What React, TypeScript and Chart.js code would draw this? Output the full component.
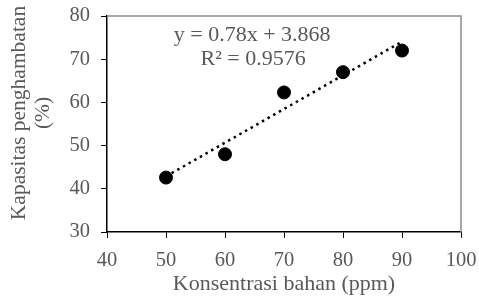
import React, { useEffect, useRef } from "react";
import { Chart, registerables } from "chart.js";

Chart.register(...registerables);

const concX = [50, 60, 70, 80, 90];
const inhibitionY = [42.6, 48.0, 62.3, 67.0, 72.0];
const trendX = [50, 90];
const trendY = [42.87, 74.07];
const equationLines = ["y = 0.78x + 3.868", "R² = 0.9576"];
const yTitleLines = ["Kapasitas penghambatan", "(%)"];
const xTitle = "Konsentrasi bahan (ppm)";

const FONT = "'Liberation Serif', 'Times New Roman', serif";
const GRAY = "#595959";

const overlay = {
  id: "overlay",
  afterDraw(chart: any) {
    const { ctx, chartArea } = chart;
    ctx.save();
    // top & right frame
    ctx.strokeStyle = "#8c8c8c";
    ctx.lineWidth = 1.5;
    ctx.beginPath();
    ctx.moveTo(chartArea.left, chartArea.top);
    ctx.lineTo(chartArea.right, chartArea.top);
    ctx.lineTo(chartArea.right, chartArea.bottom);
    ctx.stroke();
    // equation
    ctx.fillStyle = GRAY;
    ctx.font = `22px ${FONT}`;
    ctx.textAlign = "center";
    ctx.textBaseline = "middle";
    const xs = chart.scales.x;
    const ys = chart.scales.y;
    const cx = xs.getPixelForValue(64.6);
    ctx.fillText(equationLines[0], cx, ys.getPixelForValue(75.6));
    ctx.fillText(equationLines[1], cx + 1, ys.getPixelForValue(70.0));
    // y title
    ctx.font = `21.5px ${FONT}`;
    ctx.translate(0, 113);
    ctx.rotate(-Math.PI / 2);
    ctx.fillText(yTitleLines[0], 0, 19);
    ctx.fillText(yTitleLines[1], 0, 43);
    ctx.restore();
  },
};

export default function App() {
  const ref = useRef<HTMLCanvasElement>(null);
  useEffect(() => {
    if (!ref.current) return;
    const chart = new Chart(ref.current, {
      type: "scatter",
      data: {
        datasets: [
          {
            type: "line",
            data: trendX.map((x, i) => ({ x, y: trendY[i] })),
            borderColor: "#000",
            borderWidth: 2.5,
            borderDash: [2.5, 4],
            pointRadius: 0,
            fill: false,
          } as any,
          {
            data: concX.map((x, i) => ({ x, y: inhibitionY[i] })),
            backgroundColor: "#000",
            borderColor: "#000",
            pointRadius: 6.5,
          },
        ],
      },
      plugins: [overlay],
      options: {
        animation: false,
        responsive: false,
        layout: { padding: { top: 16, right: 18, left: 0, bottom: 0 } },
        plugins: { legend: { display: false }, tooltip: { enabled: false } },
        scales: {
          x: {
            type: "linear",
            min: 40,
            max: 100,
            afterFit: (s: any) => { s.height = 65; s.paddingRight = 0; s.paddingLeft = 0; },
            ticks: { stepSize: 10, color: GRAY, font: { family: FONT, size: 20.5 }, padding: 10 },
            grid: { drawOnChartArea: false, drawTicks: true, tickLength: 6, color: "#000" },
            border: { color: "#000", width: 1.5 },
            title: {
              display: true,
              text: xTitle,
              color: GRAY,
              font: { family: FONT, size: 22 },
              padding: { top: 0, bottom: 0 },
            },
          },
          y: {
            type: "linear",
            min: 30,
            max: 80,
            afterFit: (s: any) => { s.width = 107; s.paddingTop = 0; s.paddingBottom = 0; },
            ticks: { stepSize: 10, color: GRAY, font: { family: FONT, size: 20.5 }, padding: 11 },
            grid: { drawOnChartArea: false, drawTicks: true, tickLength: 6, color: "#000" },
            border: { color: "#000", width: 1.5 },
          },
        },
      },
    });
    return () => chart.destroy();
  }, []);
  return (
    <div style={{ position: "absolute", left: 0, top: 0, width: 479, height: 297, background: "#fff" }}>
      <canvas ref={ref} width={479} height={297} />
    </div>
  );
}
